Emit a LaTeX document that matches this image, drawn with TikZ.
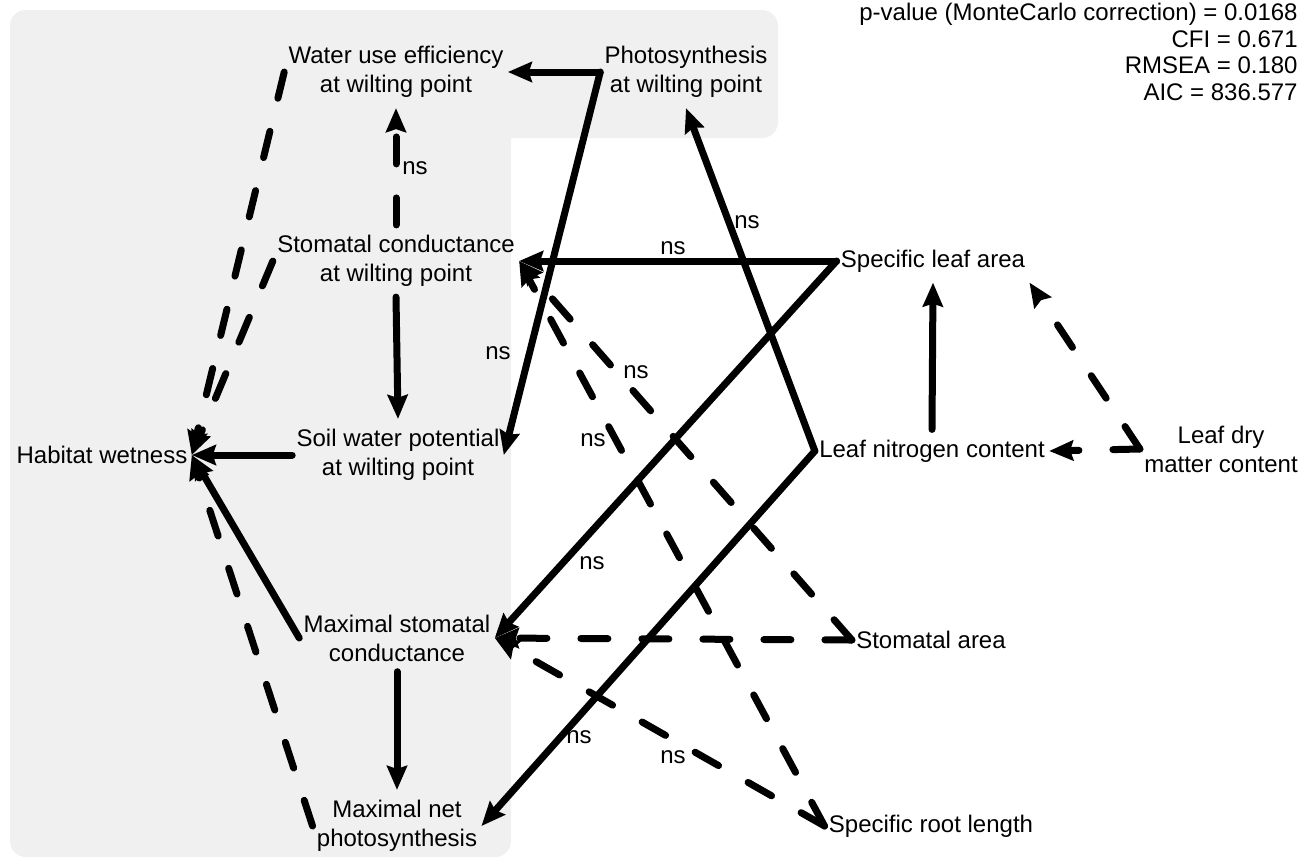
\documentclass[tikz,border=0pt]{standalone}
\usepackage{fontspec}
\setmainfont{Liberation Sans}
\usetikzlibrary{arrows.meta}
\definecolor{panelgray}{RGB}{240,240,240}

\begin{document}
\begin{tikzpicture}[x=0.5pt, y=-0.5pt,
  var/.style={align=center, inner xsep=2pt, inner ysep=5pt, font=\fontsize{12}{14.5}\selectfont},
  nslabel/.style={inner sep=0pt, font=\fontsize{12}{14.5}\selectfont},
  posedge/.style={line width=3.5pt, line cap=round, -{Stealth[length=12pt,width=10pt,inset=1.5pt]}},
  negedge/.style={posedge, dash pattern=on 13.5pt off 17pt}]

  \useasboundingbox (0,0) rectangle (1315,858);
  \fill[panelgray, rounded corners=8pt] (10,10) rectangle (778,138);
  \fill[panelgray, rounded corners=8pt] (10,10) rectangle (511,857);

  % variables
  \node[var] (hab) at (102,455) {Habitat wetness};
  \node[var] (wue) at (396,72) {Water use efficiency\\at wilting point};
  \node[var] (phw) at (686,72) {Photosynthesis\\at wilting point};
  \node[var] (gsw) at (396,261) {Stomatal conductance\\at wilting point};
  \node[var] (swp) at (398,455) {Soil water potential\\at wilting point};
  \node[var] (gsmax) at (397,638) {Maximal stomatal\\conductance};
  \node[var] (amax) at (397,826) {Maximal net\\photosynthesis};
  \node[var] (sla) at (933,261) {Specific leaf area};
  \node[var] (lnc) at (932,451) {Leaf nitrogen content};
  \node[var] (ldmc) at (1221,449) {Leaf dry\\matter content};
  \node[var] (sa) at (931,640) {Stomatal area};
  \node[var] (srl) at (931,826) {Specific root length};

  \node[nslabel, anchor=north east, align=right, font=\fontsize{12}{13.25}\selectfont] (fit) at (1298,3)
    {p-value (MonteCarlo correction) = 0.0168\\CFI = 0.671\\RMSEA = 0.180\\AIC = 836.577};

  % paths
  \draw[posedge] (phw.west) -- (wue.east);
  \draw[posedge] (phw.west) -- (swp.east);
  \draw[posedge] (lnc.west) -- (phw.south);
  \draw[posedge] (lnc.west) -- (amax.east);
  \draw[posedge] (sla.west) -- (gsw.east);
  \draw[posedge] (sla.west) -- (gsmax.east);
  \draw[posedge] (lnc.north) -- (sla.south);
  \draw[negedge] (ldmc.west) -- (lnc.east);
  \draw[negedge] (ldmc.west) -- (sla.south east);
  \draw[negedge] (sa.west) -- (gsmax.east);
  \draw[negedge] (sa.west) -- (gsw.east);
  \draw[negedge] (srl.west) -- (gsw.east);
  \draw[negedge] (srl.west) -- (gsmax.east);
  \draw[negedge] (gsw.north) -- (wue.south);
  \draw[posedge] (gsw.south) -- (swp.north);
  \draw[posedge] (gsmax.south) -- (amax.north);
  \draw[negedge] (wue.west) -- (hab.east);
  \draw[negedge] (gsw.west) -- (hab.east);
  \draw[posedge] (swp.west) -- (hab.east);
  \draw[posedge] (gsmax.west) -- (hab.east);
  \draw[negedge] (amax.west) -- (hab.east);

  % non-significant paths
  \node[nslabel] (ns1) at (415,168) {ns};
  \node[nslabel] (ns2) at (498,353) {ns};
  \node[nslabel] (ns3) at (747,222) {ns};
  \node[nslabel] (ns4) at (673,248) {ns};
  \node[nslabel] (ns5) at (636,372) {ns};
  \node[nslabel] (ns6) at (593,440) {ns};
  \node[nslabel] (ns7) at (592,563) {ns};
  \node[nslabel] (ns8) at (579,737) {ns};
  \node[nslabel] (ns9) at (673,757) {ns};
\end{tikzpicture}
\end{document}
